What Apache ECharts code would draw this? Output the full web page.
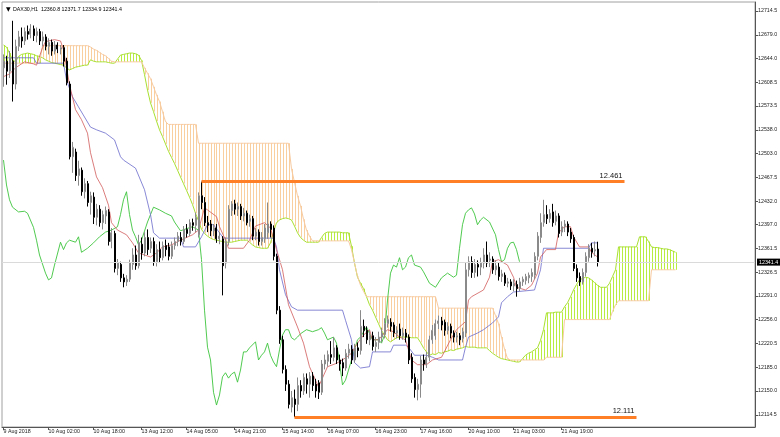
<!DOCTYPE html>
<html><head><meta charset="utf-8">
<script src="https://cdn.jsdelivr.net/npm/echarts@6/dist/echarts.min.js"></script>
<style>html,body{margin:0;padding:0;background:#fff}#c{width:780px;height:437px}</style>
</head><body><div id="c"></div>
<script>
// ---- DATA ----
const symbolTitle = 'DAX30,H1  12360.8 12371.7 12334.9 12341.4';
// candles: [open, close, low, high]
const candles = [
[12630,12640,12602,12650],[12640,12625,12605,12648],[12625,12645,12615,12655],[12640,12606,12580,12700],[12606,12662,12598,12672],
[12662,12676,12655,12685],[12676,12670,12660,12690],[12670,12684,12664,12690],[12684,12680,12672,12693],[12680,12688,12674,12695],
[12688,12678,12670,12693],[12678,12684,12668,12690],[12684,12670,12664,12688],[12670,12676,12662,12684],[12676,12662,12656,12680],
[12662,12668,12650,12674],[12668,12655,12648,12672],[12655,12664,12650,12670],[12664,12658,12652,12668],[12658,12660,12650,12664],
[12660,12640,12632,12664],[12640,12608,12604,12645],[12606,12498,12494,12610],[12498,12512,12474,12520],[12505,12470,12462,12510],
[12470,12480,12455,12492],[12478,12446,12440,12482],[12446,12458,12436,12466],[12458,12430,12424,12462],[12430,12440,12412,12446],
[12438,12408,12398,12445],[12408,12420,12396,12428],[12420,12400,12394,12426],[12400,12412,12390,12418],[12410,12418,12398,12424],
[12416,12372,12366,12420],[12372,12385,12362,12392],[12384,12332,12326,12388],[12332,12340,12322,12346],[12338,12318,12312,12342],
[12318,12312,12304,12324],[12312,12316,12306,12322],[12316,12340,12312,12345],[12338,12352,12330,12362],[12352,12336,12330,12366],
[12336,12370,12332,12382],[12368,12355,12345,12378],[12355,12378,12350,12386],[12378,12360,12352,12390],[12362,12372,12355,12378],
[12372,12342,12336,12378],[12342,12360,12335,12368],[12360,12348,12340,12372],[12348,12366,12344,12372],[12366,12360,12350,12375],
[12364,12350,12344,12370],[12350,12366,12346,12372],[12366,12372,12360,12378],[12372,12380,12365,12386],[12378,12372,12366,12386],
[12372,12390,12368,12395],[12390,12384,12378,12398],[12384,12400,12380,12405],[12400,12396,12388,12406],[12396,12408,12386,12415],
[12382,12440,12378,12445],[12440,12430,12420,12461],[12430,12400,12395,12438],[12400,12396,12386,12410],[12398,12388,12380,12404],
[12388,12392,12380,12398],[12392,12376,12370,12398],[12376,12380,12368,12386],[12376,12336,12292,12380],[12340,12372,12332,12378],
[12372,12420,12366,12426],[12418,12428,12410,12432],[12428,12420,12412,12434],[12420,12424,12410,12430],[12424,12410,12404,12428],
[12410,12414,12402,12422],[12414,12400,12396,12418],[12402,12406,12394,12412],[12406,12380,12374,12410],[12380,12386,12374,12392],
[12386,12372,12366,12390],[12372,12378,12366,12386],[12376,12392,12370,12398],[12385,12398,12376,12430],[12398,12390,12378,12402],
[12392,12350,12344,12396],[12350,12270,12264,12354],[12270,12226,12220,12276],[12226,12182,12176,12232],[12182,12160,12150,12188],
[12160,12130,12124,12166],[12126,12140,12118,12150],[12138,12130,12111,12152],[12130,12158,12120,12170],[12158,12150,12140,12166],
[12150,12170,12144,12176],[12168,12160,12146,12176],[12160,12172,12140,12178],[12172,12158,12150,12178],[12160,12150,12140,12168],
[12162,12148,12138,12166],[12148,12190,12144,12196],[12190,12196,12182,12204],[12194,12204,12186,12210],[12204,12200,12190,12224],
[12200,12214,12194,12230],[12214,12196,12190,12218],[12196,12190,12180,12204],[12192,12184,12172,12198],[12184,12206,12180,12212],
[12206,12212,12198,12220],[12212,12196,12190,12218],[12196,12214,12192,12220],[12214,12210,12200,12222],[12210,12246,12204,12270],
[12246,12240,12230,12256],[12240,12226,12220,12246],[12226,12232,12218,12240],[12232,12216,12210,12238],[12216,12222,12208,12230],
[12222,12230,12212,12238],[12230,12236,12222,12244],[12234,12250,12228,12258],[12250,12256,12244,12262],[12252,12246,12238,12258],
[12248,12236,12230,12252],[12236,12240,12228,12246],[12242,12232,12226,12250],[12232,12236,12226,12244],[12236,12230,12222,12242],
[12230,12196,12190,12234],[12200,12168,12162,12206],[12170,12152,12140,12176],[12152,12160,12136,12168],[12160,12196,12140,12202],
[12196,12190,12180,12204],[12190,12200,12184,12208],[12200,12226,12194,12232],[12226,12240,12220,12248],[12232,12250,12226,12256],
[12250,12254,12242,12262],[12254,12248,12240,12260],[12252,12240,12232,12256],[12240,12246,12234,12252],[12246,12236,12228,12250],
[12236,12230,12222,12240],[12230,12232,12222,12238],[12232,12226,12218,12236],[12228,12238,12222,12244],[12236,12330,12230,12340],
[12330,12342,12320,12350],[12342,12326,12318,12350],[12326,12338,12318,12346],[12338,12334,12320,12344],[12334,12340,12322,12348],
[12340,12352,12332,12362],[12352,12340,12334,12372],[12344,12346,12334,12356],[12346,12330,12324,12350],[12330,12336,12322,12344],
[12334,12320,12314,12340],[12320,12324,12312,12330],[12322,12310,12306,12326],[12310,12312,12304,12318],[12312,12306,12300,12316],
[12306,12310,12298,12316],[12308,12302,12290,12314],[12302,12312,12298,12318],[12312,12316,12306,12320],[12314,12320,12308,12324],
[12318,12322,12310,12326],[12320,12326,12312,12332],[12322,12350,12316,12356],[12350,12380,12344,12386],[12378,12400,12370,12414],
[12400,12412,12394,12434],[12412,12406,12398,12426],[12406,12414,12400,12420],[12416,12400,12394,12428],[12402,12410,12396,12418],
[12410,12384,12378,12414],[12386,12394,12380,12402],[12394,12398,12386,12404],[12398,12386,12380,12402],[12386,12376,12370,12392],
[12378,12332,12328,12382],[12332,12318,12312,12338],[12320,12312,12306,12326],[12312,12326,12308,12332],[12326,12350,12320,12356],
[12348,12362,12342,12368],[12362,12356,12348,12370],[12358,12360,12350,12372],[12360.8,12341.4,12334.9,12371.7]
];
// Senkou Span A (per bar, shifted forward)
const senkouA = [
12664,12661,12652,12642,12639,12647,12650,12651,12652,12651,
12650,12648,12647,12645,12642,12640,12638,12637,12636,12635,
12634,12630,12627,12629,12631,12632,12633,12634,12634,12642,
12640,12639,12639,12639,12639,12638,12637,12637,12643,12649,
12650,12651,12652,12652,12651,12649,12641,12620,12597,12578,
12565,12551,12538,12528,12517,12506,12497,12488,12478,12468,
12458,12448,12438,12427,12414,12403,12390,12384,12380,12377,
12375,12374,12373,12372,12371,12371,12371,12372,12373,12374,
12374,12374,12371,12367,12364,12363,12362,12362,12362,12370,
12386,12400,12404,12406,12407,12406,12404,12395,12385,12378,
12374,12371,12371,12371,12371,12371,12378,12384,12386,12386,
12386,12386,12386,12385,12385,12385,12365,12340,12319,12310,
12302,12290,12278,12270,12260,12250,12240,12233,12226,12223,
12226,12229,12230,12230,12230,12230,12229,12229,12229,12222,
12214,12208,12203,12205,12204,12207,12206,12208,12209,12211,
12210,12212,12213,12214,12216,12215,12215,12215,12214,12214,
12214,12214,12210,12206,12203,12200,12198,12197,12196,12195,
12194,12193,12193,12198,12203,12206,12208,12211,12214,12225,
12241,12266,12266,12266,12267,12267,12267,12275,12281,12290,
12300,12308,12315,12317,12319,12318,12315,12311,12307,12304,
12304,12304,12310,12320,12330,12364,12364,12364,12364,12364,
12364,12364,12379,12379,12379,12372,12364,12363,12363,12362,
12361,12361,12360,12358,12356
];
// Senkou Span B (per bar, shifted forward)
const senkouB = [
12637,12637,12637,12637,12637,12637,12637,12637,12637,12637,
12637,12637,12637,12663,12663,12663,12663,12663,12663,12663,
12663,12663,12663,12663,12663,12663,12663,12663,12663,12661,
12658,12656,12653,12650,12648,12644,12640,12639,12639,12639,
12639,12639,12639,12639,12639,12639,12639,12630,12622,12614,
12602,12590,12580,12565,12550,12546,12546,12546,12546,12546,
12546,12546,12546,12546,12546,12518,12518,12518,12518,12518,
12518,12518,12518,12518,12518,12518,12518,12518,12518,12518,
12518,12518,12518,12518,12518,12518,12518,12518,12518,12518,
12518,12518,12518,12518,12518,12518,12480,12460,12440,12425,
12405,12389,12380,12373,12373,12373,12373,12373,12373,12373,
12373,12373,12373,12373,12373,12373,12360,12340,12320,12307,
12298,12290,12290,12290,12290,12290,12290,12290,12290,12290,
12290,12290,12290,12290,12290,12290,12290,12290,12290,12290,
12290,12290,12290,12290,12290,12273,12273,12273,12273,12273,
12273,12273,12273,12273,12273,12273,12273,12273,12273,12273,
12273,12273,12273,12273,12262,12250,12230,12212,12198,12196,
12196,12196,12196,12196,12196,12196,12196,12196,12196,12196,
12196,12200,12200,12200,12200,12200,12200,12256,12256,12256,
12256,12256,12256,12256,12256,12256,12256,12256,12256,12256,
12256,12256,12256,12268,12278,12284,12284,12284,12284,12284,
12284,12284,12284,12284,12284,12284,12330,12330,12330,12330,
12330,12330,12330,12330,12330
];
// Tenkan-sen [bar, value]
const tenkan = [[0,12617],[2,12621],[4,12630],[7,12639],[10,12636],[11,12634],[13,12660],[14,12669],[17,12672],[19,12670],[20,12657],[22,12605],[24,12568],[26,12553],[28,12533],[29,12504],[31,12468],[33,12452],[35,12426],[36,12400],[38,12389],[41,12382],[43,12370],[45,12355],[49,12349],[51,12355],[53,12364],[56,12367],[59,12374],[63,12382],[65,12389],[67,12422],[68,12419],[71,12409],[72,12394],[74,12374],[75,12362],[80,12362],[82,12374],[84,12395],[87,12400],[89,12392],[91,12360],[93,12330],[95,12278],[98,12245],[100,12221],[102,12186],[105,12156],[106,12166],[108,12186],[111,12191],[114,12199],[116,12206],[118,12221],[120,12233],[122,12241],[123,12226],[125,12226],[128,12241],[130,12238],[132,12230],[134,12226],[136,12196],[138,12189],[141,12189],[143,12196],[146,12200],[149,12226],[151,12241],[154,12253],[155,12285],[156,12290],[160,12300],[162,12319],[163,12342],[165,12345],[168,12337],[170,12319],[171,12304],[174,12300],[176,12307],[178,12325],[179,12349],[181,12360],[184,12360],[185,12385],[187,12394],[189,12394],[190,12379],[192,12364],[195,12364],[196,12356],[198,12349]];
// Kijun-sen [bar, value]
const kijun = [[0,12645],[10,12645],[11,12637],[20,12637],[21,12612],[23,12587],[25,12572],[27,12557],[29,12542],[31,12538],[34,12533],[37,12523],[39,12498],[40,12493],[44,12481],[47,12449],[49,12412],[50,12385],[52,12377],[59,12377],[60,12364],[64,12364],[66,12379],[68,12397],[70,12397],[73,12379],[74,12377],[90,12377],[91,12364],[92,12330],[94,12293],[96,12275],[98,12270],[113,12270],[114,12255],[116,12226],[117,12192],[119,12184],[122,12186],[123,12208],[129,12208],[130,12218],[134,12218],[135,12215],[137,12203],[141,12203],[143,12200],[145,12196],[153,12196],[154,12215],[155,12230],[158,12236],[160,12241],[163,12251],[165,12260],[166,12281],[168,12290],[170,12297],[177,12300],[179,12330],[180,12362],[195,12362],[196,12370],[198,12370]];
// Chikou span [bar, value]
const chikou = [[0,12493],[1,12456],[2,12434],[3,12423],[5,12416],[7,12417],[8,12414],[10,12393],[11,12374],[12,12352],[14,12325],[15,12315],[16,12318],[17,12337],[19,12371],[20,12360],[21,12370],[22,12374],[24,12371],[25,12379],[26,12356],[28,12362],[30,12370],[32,12379],[34,12386],[36,12389],[38,12394],[39,12412],[40,12434],[41,12446],[42,12412],[43,12389],[44,12379],[45,12367],[46,12374],[48,12401],[49,12412],[50,12423],[52,12419],[54,12414],[56,12410],[57,12401],[59,12388],[61,12391],[63,12394],[65,12389],[66,12345],[67,12270],[68,12215],[69,12196],[70,12148],[71,12129],[72,12144],[73,12171],[74,12177],[75,12169],[76,12175],[77,12178],[78,12163],[79,12181],[80,12208],[81,12208],[82,12214],[84,12223],[85,12196],[86,12203],[87,12208],[88,12221],[89,12203],[90,12193],[91,12186],[92,12211],[93,12233],[94,12241],[95,12241],[96,12229],[97,12226],[98,12230],[99,12235],[101,12241],[103,12238],[105,12241],[106,12244],[107,12236],[108,12226],[110,12230],[111,12221],[112,12193],[113,12159],[114,12166],[115,12181],[117,12211],[118,12226],[119,12230],[121,12245],[123,12226],[125,12226],[126,12221],[127,12233],[128,12285],[129,12325],[130,12337],[131,12334],[132,12348],[133,12330],[134,12334],[135,12348],[136,12352],[137,12337],[139,12334],[140,12327],[142,12310],[144,12304],[146,12318],[148,12325],[150,12319],[151,12322],[152,12362],[153,12397],[154,12414],[155,12419],[156,12422],[157,12413],[158,12397],[159,12404],[160,12408],[162,12401],[164,12382],[165,12360],[166,12342],[167,12345],[168,12362],[169,12370],[170,12371],[171,12360],[172,12342]];
// axis ticks / labels
const yTicks = [12114.5,12150.0,12185.0,12220.5,12256.0,12291.0,12326.5,12361.5,12397.0,12432.0,12467.5,12503.0,12538.0,12573.5,12608.5,12644.0,12679.0,12714.5];
const xLabelIdx = [0,15,30,46,61,77,93,108,124,139,155,170,186];
const xLabels = ['9 Aug 2018','10 Aug 02:00','10 Aug 18:00','13 Aug 12:00','14 Aug 05:00','14 Aug 21:00','15 Aug 14:00','16 Aug 07:00','16 Aug 23:00','17 Aug 16:00','20 Aug 10:00','21 Aug 03:00','21 Aug 19:00'];
const levelValues = [12461, 12111];
const levelStart = [66, 97];
const levelEnd = [207, 211];
const levelTexts = ['12.461', '12.111'];
const lastPrice = 12341.4;
const slotCount = 251;

// ---- CHART ----
const FONT = 'Liberation Sans';
const cats = Array.from({length: slotCount}, (_, i) => String(i));
const labelMap = {};
xLabelIdx.forEach((k, j) => { labelMap[k] = xLabels[j]; });
const showIdx = (idx) => labelMap[idx] !== undefined;
const cloudData = senkouA.map((a, i) => [i, a, senkouB[i]]);

const levelLines = levelValues.map((v, j) => [
  {coord: [levelStart[j], v], lineStyle: {color: '#ff7f27', width: 3, type: 'solid'},
   label: {show: true, position: 'insideEndTop', formatter: levelTexts[j], color: '#111', fontSize: 7.5, fontFamily: FONT, distance: 2}},
  {coord: [levelEnd[j], v]}
]);

const chart = echarts.init(document.getElementById('c'), null, {renderer: 'canvas'});
chart.setOption({
  animation: false,
  backgroundColor: '#fff',
  title: [
    {text: '▼', left: 1, top: 1, textStyle: {fontSize: 6, color: '#000', fontWeight: 'normal', fontFamily: 'DejaVu Sans'}},
    {text: symbolTitle, left: 8, top: 2, textStyle: {fontSize: 5.3, color: '#000', fontWeight: 'normal', fontFamily: FONT}}
  ],
  grid: {left: 2, right: 25, top: 2, bottom: 10, show: true, borderColor: '#a0a0a0', borderWidth: 1, containLabel: false, outerBoundsMode: 'none'},
  xAxis: {
    type: 'category', data: cats, boundaryGap: true,
    axisLine: {show: true, lineStyle: {color: '#555', width: 1}},
    axisTick: {show: true, interval: showIdx, length: 3, alignWithLabel: true, lineStyle: {color: '#555'}},
    axisLabel: {show: true, interval: showIdx, formatter: (v) => labelMap[+v] || '', align: 'left', fontSize: 5.3, color: '#222', margin: 2, fontFamily: FONT},
    splitLine: {show: false}
  },
  yAxis: {
    type: 'value', position: 'right', min: 12096.4, max: 12727.9,
    axisLine: {show: true, lineStyle: {color: '#555', width: 1}},
    axisTick: {show: true, length: 3, customValues: yTicks, lineStyle: {color: '#555'}},
    axisLabel: {show: true, customValues: yTicks, formatter: (v) => v.toFixed(1), fontSize: 5.3, color: '#222', margin: 3, fontFamily: FONT},
    splitLine: {show: false}
  },
  series: [
    {
      name: 'cloud', type: 'custom', z: 1, silent: true,
      renderItem: (params, api) => {
        const i = api.value(0), a = api.value(1), b = api.value(2);
        const pa = api.coord([i, a]), pb = api.coord([i, b]);
        const x = Math.round(pa[0]) + 0.5;
        return {type: 'line', shape: {x1: x, y1: pa[1], x2: x, y2: pb[1]},
          style: {stroke: a >= b ? '#b9ec40' : '#f9cf9f', lineWidth: 1}};
      },
      encode: {x: 0, y: [1, 2]},
      data: cloudData,
      markLine: {symbol: 'none', silent: true, data: [{yAxis: lastPrice}],
        lineStyle: {color: '#dadada', width: 1, type: 'solid'},
        label: {show: true, position: 'end', formatter: lastPrice.toFixed(1), color: '#fff', backgroundColor: '#000', padding: [1, 2], fontSize: 5.3, fontFamily: FONT, distance: 2}}
    },
    {name: 'Senkou A', type: 'line', z: 2, data: senkouA, showSymbol: false, symbol: 'none', silent: true, lineStyle: {color: '#a8e030', width: 1}},
    {name: 'Senkou B', type: 'line', z: 2, data: senkouB, showSymbol: false, symbol: 'none', silent: true, lineStyle: {color: '#f7caa0', width: 1}},
    {name: 'Chikou', type: 'line', z: 3, data: chikou, showSymbol: false, symbol: 'none', silent: true, lineStyle: {color: '#3cc43c', width: 0.9}},
    {name: 'Kijun', type: 'line', z: 3, data: kijun, showSymbol: false, symbol: 'none', silent: true, lineStyle: {color: '#6a6acc', width: 0.8}},
    {name: 'Tenkan', type: 'line', z: 3, data: tenkan, showSymbol: false, symbol: 'none', silent: true, lineStyle: {color: '#d25a5a', width: 0.8}},
    {
      name: 'DAX30', type: 'candlestick', z: 4, data: candles, barWidth: 1.5, silent: true,
      itemStyle: {color: '#ffffff', color0: '#000000', borderColor: '#8a8a8a', borderColor0: '#000000', borderWidth: 1},
      markLine: {symbol: 'none', silent: true, z: 10, data: levelLines}
    }
  ]
});
</script>
</body></html>
